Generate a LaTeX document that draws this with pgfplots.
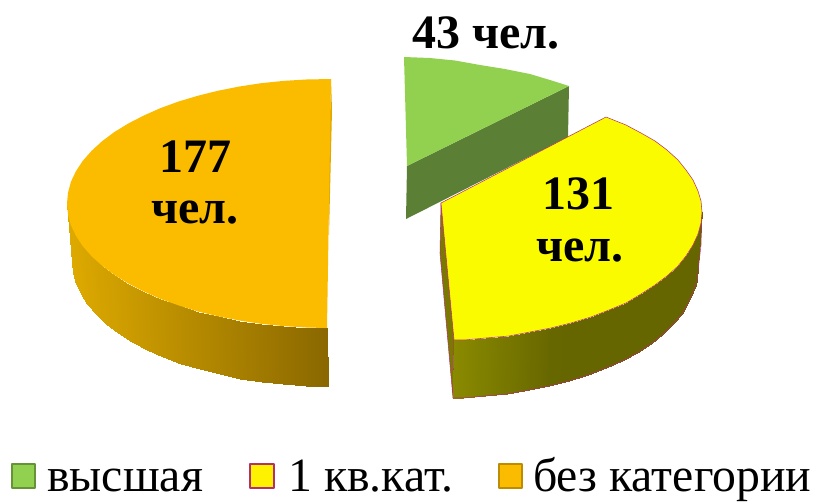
\documentclass[border=0pt]{standalone}
\usepackage{fontspec}
\setmainfont{Liberation Serif}
\usepackage{pgfplots}
\pgfplotsset{compat=1.18}

\definecolor{greentop}{HTML}{92D050}
\definecolor{greenwall}{HTML}{5A7F35}
\definecolor{yellowtop}{HTML}{FBFB00}
\definecolor{yellowedge}{HTML}{B5306A}
\definecolor{oliveleft}{HTML}{7A7A00}
\definecolor{orangetop}{HTML}{FBBC00}
\definecolor{orangeedge}{HTML}{E0A800}

\newcommand{\bigtxt}{\fontsize{36}{40}\selectfont\bfseries}
\newcommand{\legtxt}{\fontsize{35.8}{40}\selectfont}

\begin{document}
\begin{tikzpicture}
\begin{axis}[
    width=612.75pt, height=377.25pt,
    scale only axis,
    xmin=0, xmax=817, ymin=0, ymax=503,
    y dir=reverse,
    hide axis,
    clip=false,
    line join=round,
    % 0 to 0.5 is the orange wall, 0.51 to 1 the olive wall
    colormap={walls}{rgb255(0)=(222,170,0) rgb255(25)=(180,137,0) rgb255(50)=(138,104,0)
                     rgb255(51)=(138,138,0) rgb255(100)=(102,102,0)},
    point meta min=0, point meta max=1,
]
% keeps the whole frame in the page
\addplot[draw=none] coordinates {(0,0) (817,503)};

% sector "высшая", 43
\addplot[fill=greenwall, draw=none] coordinates {
    (569,86) (568,137) (406,219) (407,166)} --cycle;
\addplot[fill=greentop, draw=none] coordinates {
    (404,57) (430,58) (455,60.5) (480,65) (505,69) (530,74) (550,80) (569,86)
    (407,166)} --cycle;

% sector "1 кв.кат.", 131
\addplot[fill=oliveleft, draw=yellowedge, line width=0.4pt] coordinates {
    (441,203) (440,253) (453,398) (454,340)} --cycle;
\addplot[surf, shader=interp, point meta=explicit, mesh/rows=19, mesh/cols=2] coordinates {
    (702,212) [1] (697,280) [1]
    (701,223) [1] (696,285) [1]
    (698,234) [1] (693,292) [1]
    (693,245) [1] (688,303) [1]
    (686,256) [1] (682,314) [1]
    (678,266) [1] (673,324) [1]
    (667,276) [1] (663,334) [1]
    (655,285) [1] (651,344) [1]
    (641,294) [1] (637,353) [1]
    (626,303) [1] (622,361) [1]
    (609,310) [1] (606,368) [1]
    (591,317) [1] (588,375) [1]
    (571,323) [1] (569,381) [1]
    (551,328) [.985] (549,386) [.985]
    (530,332) [.882] (529,390) [.882]
    (509,336) [.78] (507,394) [.78]
    (486,338) [.667] (485,396) [.667]
    (464,340) [.559] (463,398) [.559]
    (454,340) [.51] (453,398) [.51]
};
\addplot[draw=yellowedge, line width=0.4pt] coordinates {
    (702,212) (701,245) (697,280)
    (693,292) (688,303) (682,314) (673,324) (663,334) (651,344) (637,353) (622,361)
    (606,368) (588,375) (569,381) (549,386) (529,390) (507,394) (485,396) (463,398) (453,398)};
\addplot[fill=yellowtop, draw=yellowedge, line width=0.4pt] coordinates {
    (441,203) (606,117) (626,125) (641,133) (655,141) (667,150) (678,160) (686,170) (693,180)
    (698,191) (701,201) (702,212) (701,223) (698,234) (693,245) (686,256) (678,266) (667,276)
    (655,285) (641,294) (626,303) (609,310) (591,317) (571,323) (551,328) (530,332) (509,336)
    (486,338) (464,340) (454,340)} --cycle;

% sector "без категории", 177
\addplot[fill=orangeedge, draw=none] coordinates {
    (331,79) (332,110) (329,235) (328,200)} --cycle;
\addplot[surf, shader=interp, point meta=explicit, mesh/rows=19, mesh/cols=2] coordinates {
    (67,203.5) [0] (72,262) [0]
    (68,214.3) [.002] (73,273) [.002]
    (70.9,225.2) [.008] (76,284) [.008]
    (75.9,235.6) [.017] (81,294) [.017]
    (82.7,246.1) [.031] (87,304) [.031]
    (91.6,256.2) [.048] (96,314) [.048]
    (102.1,265.7) [.067] (106,324) [.067]
    (114.4,274.9) [.09] (118,333) [.09]
    (128.3,283.5) [.117] (132,342) [.117]
    (143.8,291.5) [.148] (147,350) [.148]
    (160.5,298.9) [.18] (163,357) [.18]
    (178.6,305.4) [.215] (181,364) [.215]
    (198,311.5) [.251] (200,369) [.251]
    (218.2,316.3) [.289] (220,374) [.289]
    (239.4,320.5) [.33] (240,379) [.33]
    (261.1,323.8) [.372] (262,382) [.372]
    (283.4,326.1) [.414] (283,384) [.414]
    (306.2,327.5) [.458] (306,386) [.458]
    (327,328) [.498] (328,386) [.498]
};
\addplot[fill=orangetop, draw=none] coordinates {
    (331,79) (306.2,79.5) (283.4,80.9) (261.1,83.2) (239.4,86.5) (218.2,90.7) (198,95.7)
    (178.6,101.5) (160.5,108.1) (143.8,115.5) (128.3,123.5) (114.4,132) (102.1,141.2)
    (91.6,150.8) (82.7,160.9) (75.9,171.3) (70.9,181.8) (68,192.7) (67,203.5)
    (68,214.3) (70.9,225.2) (75.9,235.6) (82.7,246.1) (91.6,256.2) (102.1,265.7)
    (114.4,274.9) (128.3,283.5) (143.8,291.5) (160.5,298.9) (178.6,305.4) (198,311.5)
    (218.2,316.3) (239.4,320.5) (261.1,323.8) (283.4,326.1) (306.2,327.5) (327,328)} --cycle;

% legend keys
\addplot[fill=greentop, draw=greentop!70!black, line width=1pt] coordinates {
    (12,464) (35,464) (35,488) (12,488)} --cycle;
\addplot[fill=yellow, draw=yellowedge, line width=1pt] coordinates {
    (250,464) (274,464) (274,488) (250,488)} --cycle;
\addplot[fill=orangetop, draw=orangetop!75!black, line width=1pt] coordinates {
    (499,464) (522,464) (522,488) (499,488)} --cycle;

% value labels
\node[font=\bigtxt] at (axis cs:486,33) {43 чел.};
\node[font=\bigtxt] at (axis cs:195,157) {177};
\node[font=\bigtxt] at (axis cs:195,213) {чел.};
\node[font=\bigtxt] at (axis cs:578,194) {131};
\node[font=\bigtxt] at (axis cs:580,251) {чел.};

% legend text
\node[font=\legtxt, anchor=base west, inner sep=0pt] at (axis cs:47,491) {высшая};
\node[font=\legtxt, anchor=base west, inner sep=0pt] at (axis cs:288,491) {1 кв.кат.};
\node[font=\legtxt, anchor=base west, inner sep=0pt] at (axis cs:533,491) {без категории};
\end{axis}
\end{tikzpicture}
\end{document}
